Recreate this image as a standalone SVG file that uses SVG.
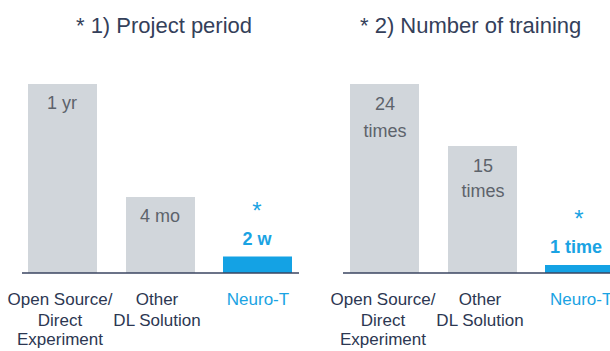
<svg xmlns="http://www.w3.org/2000/svg" width="610" height="351" viewBox="0 0 610 351">
<style>
text{font-family:"Liberation Sans",Arial,sans-serif}
.title{font-size:22px;fill:#34405a;text-anchor:middle}
.bar{fill:#d1d6db}
.blue{fill:#14a2e4}
.val{font-size:18px;fill:#5d636b;text-anchor:middle}
.bval{font-size:18px;fill:#1aa3e3;font-weight:bold;text-anchor:middle}
.star{font-size:24px;fill:#1aa3e3;text-anchor:middle}
.lab{font-size:17px;fill:#2c3752;text-anchor:middle}
.blab{font-size:17px;fill:#1aa3e3;text-anchor:middle}
.axis{stroke:#3a4560;stroke-width:1.5}
</style>
<rect width="610" height="351" fill="#ffffff"/>
<g id="chart1">
  <text class="title" x="164" y="33">* 1) Project period</text>
  <g id="c1-open">
    <rect class="bar" x="28" y="84" width="69" height="189"/>
    <text class="val" x="62" y="109">1 yr</text>
    <text class="lab" x="60" y="305">Open Source/</text>
    <text class="lab" x="60" y="325.5">Direct</text>
    <text class="lab" x="60" y="345">Experiment</text>
  </g>
  <g id="c1-other">
    <rect class="bar" x="126" y="197" width="69" height="76"/>
    <text class="val" x="160" y="222">4 mo</text>
    <text class="lab" x="157" y="305">Other</text>
    <text class="lab" x="157" y="325.5">DL Solution</text>
  </g>
  <g id="c1-neuro">
    <rect class="blue" x="223" y="256.5" width="69" height="16.5"/>
    <text class="star" x="257" y="219">*</text>
    <text class="bval" x="257" y="245">2 w</text>
    <text class="blab" x="258" y="305">Neuro-T</text>
  </g>
</g>
<g id="chart2">
  <text class="title" x="360" y="33" style="text-anchor:start">* 2) Number of training</text>
  <g id="c2-open">
    <rect class="bar" x="350" y="84" width="69" height="189"/>
    <text class="val" x="385" y="110">24</text>
    <text class="val" x="385" y="136.5">times</text>
    <text class="lab" x="383" y="305">Open Source/</text>
    <text class="lab" x="383" y="325.5">Direct</text>
    <text class="lab" x="383" y="345">Experiment</text>
  </g>
  <g id="c2-other">
    <rect class="bar" x="448" y="146" width="69" height="127"/>
    <text class="val" x="483" y="171.5">15</text>
    <text class="val" x="483" y="196.5">times</text>
    <text class="lab" x="480" y="305">Other</text>
    <text class="lab" x="480" y="325.5">DL Solution</text>
  </g>
  <g id="c2-neuro">
    <rect class="blue" x="545" y="265" width="69" height="8"/>
    <text class="star" x="579" y="227">*</text>
    <text class="bval" x="550" y="253" style="text-anchor:start">1 time</text>
    <text class="blab" x="550" y="305" style="text-anchor:start">Neuro-T</text>
  </g>
</g>
<g id="connectors">
  <line class="axis" x1="22" y1="273" x2="299" y2="273"/>
  <line class="axis" x1="343" y1="273" x2="610" y2="273"/>
</g>
</svg>
